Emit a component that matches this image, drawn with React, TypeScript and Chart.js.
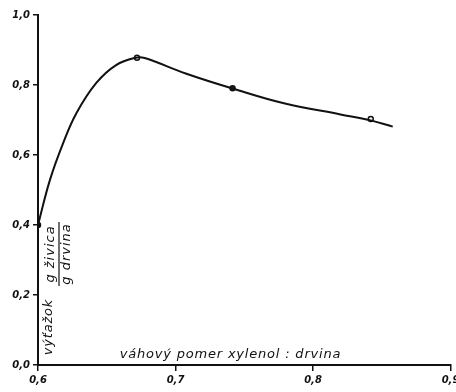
import React, { useEffect, useRef } from "react";
import { Chart, registerables } from "chart.js";

Chart.register(...registerables);

const curveX = [0.6, 0.6087, 0.6183, 0.628, 0.6424, 0.6568, 0.671, 0.6776, 0.7074, 0.7415, 0.7796, 0.82, 0.842, 0.858];
const curveY = [0.4, 0.529, 0.634, 0.72, 0.806, 0.857, 0.878, 0.877, 0.833, 0.79, 0.747, 0.716, 0.699, 0.681];

const pointX = [0.6, 0.672, 0.7415, 0.842];
const pointY = [0.4, 0.878, 0.791, 0.703];
const pointFill = ["#000", "#fff", "#222", "#fff"];

const yTickValues = [0, 0.2, 0.4, 0.6, 0.8, 1.0];
const xTickValues = [0.6, 0.7, 0.8, 0.9];

const xTitle = "váhový pomer xylenol : drvina";
const yTitle = "výťažok";
const yNum = "g živica";
const yDen = "g drvina";

const fmt = (v: number) => v.toFixed(1).replace(".", ",");

const labelPlugin = {
  id: "labels",
  afterDraw(chart: any) {
    const { ctx, scales } = chart;
    const xs = scales.x;
    const ys = scales.y;
    ctx.save();
    ctx.fillStyle = "#111";
    ctx.strokeStyle = "#111";
    ctx.font = "italic 13px 'DejaVu Sans'";
    (ctx as any).letterSpacing = "0.8px";
    ctx.textAlign = "center";
    ctx.textBaseline = "middle";
    ctx.fillText(xTitle, xs.getPixelForValue(0.7) + 55, ys.getPixelForValue(0.0) - 10);

    // rotated y title
    ctx.translate(xs.getPixelForValue(0.6) + 11, ys.getPixelForValue(0.0) - 38);
    ctx.rotate(-Math.PI / 2);
    ctx.fillText(yTitle, 0, 0);
    ctx.restore();

    ctx.save();
    ctx.fillStyle = "#111";
    ctx.strokeStyle = "#111";
    ctx.font = "italic 13px 'DejaVu Sans'";
    (ctx as any).letterSpacing = "1px";
    ctx.textAlign = "center";
    ctx.textBaseline = "middle";
    ctx.translate(xs.getPixelForValue(0.6) + 21, ys.getPixelForValue(0.4) + 29);
    ctx.rotate(-Math.PI / 2);
    ctx.fillText(yNum, 0, -8);
    ctx.fillText(yDen, 0, 8);
    ctx.lineWidth = 1.2;
    ctx.beginPath();
    ctx.moveTo(-32, 0);
    ctx.lineTo(32, 0);
    ctx.stroke();
    ctx.restore();
  },
};

export default function App() {
  const ref = useRef<HTMLCanvasElement>(null);
  useEffect(() => {
    document.body.style.margin = "0";
    const curve = curveX.map((x, i) => ({ x, y: curveY[i] }));
    const pts = pointX.map((x, i) => ({ x, y: pointY[i] }));
    const chart = new Chart(ref.current!, {
      type: "scatter",
      data: {
        datasets: [
          {
            type: "line",
            data: curve,
            borderColor: "#111",
            borderWidth: 2,
            pointRadius: 0,
            tension: 0.4,
            fill: false,
          } as any,
          {
            data: pts,
            pointRadius: 2.5,
            pointBorderWidth: 1.5,
            pointBorderColor: "#111",
            pointBackgroundColor: pointFill,
          },
        ],
      },
      options: {
        animation: false,
        responsive: false,
        layout: { padding: { top: 15, right: 4, left: 0, bottom: 0 } },
        plugins: { legend: { display: false }, tooltip: { enabled: false } },
        scales: {
          x: {
            type: "linear",
            min: 0.6,
            max: 0.9,
            afterBuildTicks: (s: any) => {
              s.ticks = xTickValues.map((v) => ({ value: v }));
            },
            afterFit: (s: any) => {
              s.height = 27;
              s.paddingLeft = 0;
              s.paddingRight = 0;
            },
            ticks: {
              callback: (v: any) => fmt(Number(v)),
              color: "#111",
              font: { family: "'DejaVu Sans'", size: 10, style: "italic", weight: "bold" },
              padding: 3,
              maxRotation: 0,
            },
            grid: { display: true, drawOnChartArea: false, drawTicks: true, tickLength: 6, color: "#111", lineWidth: 1.5 },
            border: { display: true, color: "#111", width: 2 },
          },
          y: {
            type: "linear",
            min: 0,
            max: 1.0,
            afterBuildTicks: (s: any) => {
              s.ticks = yTickValues.map((v) => ({ value: v }));
            },
            afterFit: (s: any) => {
              s.width = 38;
              s.paddingTop = 0;
              s.paddingBottom = 0;
            },
            ticks: {
              callback: (v: any) => fmt(Number(v)),
              color: "#111",
              font: { family: "'DejaVu Sans'", size: 10, style: "italic", weight: "bold" },
              padding: 3,
            },
            grid: { display: true, drawOnChartArea: false, drawTicks: true, tickLength: 5, color: "#111", lineWidth: 1.5 },
            border: { display: true, color: "#111", width: 2 },
          },
        },
      },
      plugins: [labelPlugin],
    });
    return () => chart.destroy();
  }, []);
  return (
    <div style={{ width: 456, height: 392, background: "#fff" }}>
      <canvas ref={ref} width={456} height={392} style={{ display: "block" }} />
    </div>
  );
}
